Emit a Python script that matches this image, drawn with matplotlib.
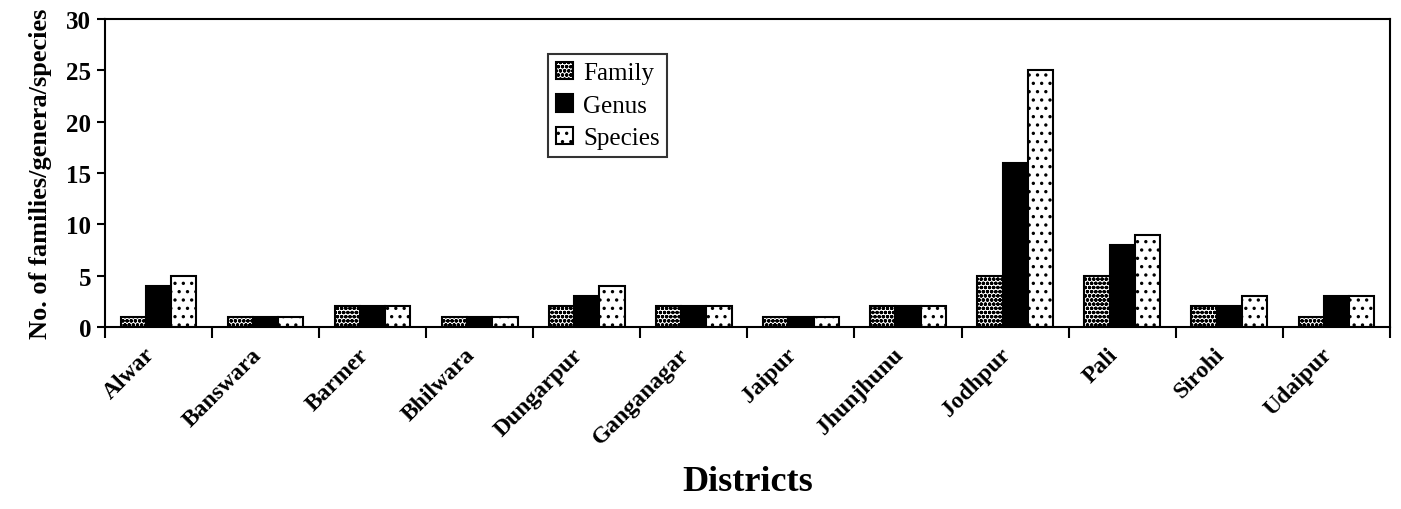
import numpy as np
import matplotlib.pyplot as plt
import matplotlib.transforms as mtransforms

plt.rcParams['font.family'] = ['Liberation Serif', 'DejaVu Serif']
plt.rcParams['font.weight'] = 'bold'
plt.rcParams['hatch.linewidth'] = 1.2

districts = ['Alwar', 'Banswara', 'Barmer', 'Bhilwara', 'Dungarpur', 'Ganganagar',
             'Jaipur', 'Jhunjhunu', 'Jodhpur', 'Pali', 'Sirohi', 'Udaipur']
family = [1, 1, 2, 1, 2, 2, 1, 2, 5, 5, 2, 1]
genus = [4, 1, 2, 1, 3, 2, 1, 2, 16, 8, 2, 3]
species = [5, 1, 2, 1, 4, 2, 1, 2, 25, 9, 3, 3]

fig = plt.figure(figsize=(14.01, 5.10), dpi=100)
ax = fig.add_axes([0.075, 0.357, 0.917, 0.604])

x = np.arange(len(districts))
w = 0.235
ax.bar(x - w, family, w, color='white', edgecolor='black', hatch='oooo', lw=1.5, label='Family')
ax.bar(x, genus, w, color='black', edgecolor='black', lw=1.5, label='Genus')
ax.bar(x + w, species, w, color='white', edgecolor='black', hatch='..', lw=1.5, label='Species')

ax.set_xlim(-0.5, len(districts) - 0.5)
ax.set_ylim(0, 30)
ax.set_yticks(range(0, 31, 5))
ax.tick_params(axis='y', labelsize=18, direction='out', length=6, width=1.5, pad=4)

# ticks at group boundaries, labels at centres
ax.set_xticks(np.arange(-0.5, len(districts) - 0.4, 1))
ax.set_xticklabels([])
ax.tick_params(axis='x', which='major', direction='out', length=8, width=1.5)
ax.set_xticks(x, minor=True)
ax.set_xticklabels(districts, minor=True, rotation=45, ha='right', rotation_mode='anchor',
                   fontsize=17, fontweight='bold')
ax.tick_params(axis='x', which='minor', length=0, pad=12)
shift = mtransforms.ScaledTranslation(-0.15, 0, fig.dpi_scale_trans)
for lab in ax.get_xticklabels(minor=True):
    lab.set_transform(lab.get_transform() + shift)

for s in ax.spines.values():
    s.set_linewidth(1.5)

ax.set_ylabel('No. of families/genera/species', fontsize=19, fontweight='bold', labelpad=10)
ax.set_xlabel('Districts', fontsize=26, fontweight='bold', labelpad=12)

leg = ax.legend(loc='upper left', bbox_to_anchor=(0.345, 0.885), borderaxespad=0,
                fontsize=18, frameon=True, fancybox=False, edgecolor='black',
                handlelength=0.7, handleheight=0.7, handletextpad=0.4,
                borderpad=0.3, labelspacing=0.4)
leg.get_frame().set_linewidth(1.5)
for t in leg.get_texts():
    t.set_fontweight('normal')

fig.savefig('out.png', dpi=100)
